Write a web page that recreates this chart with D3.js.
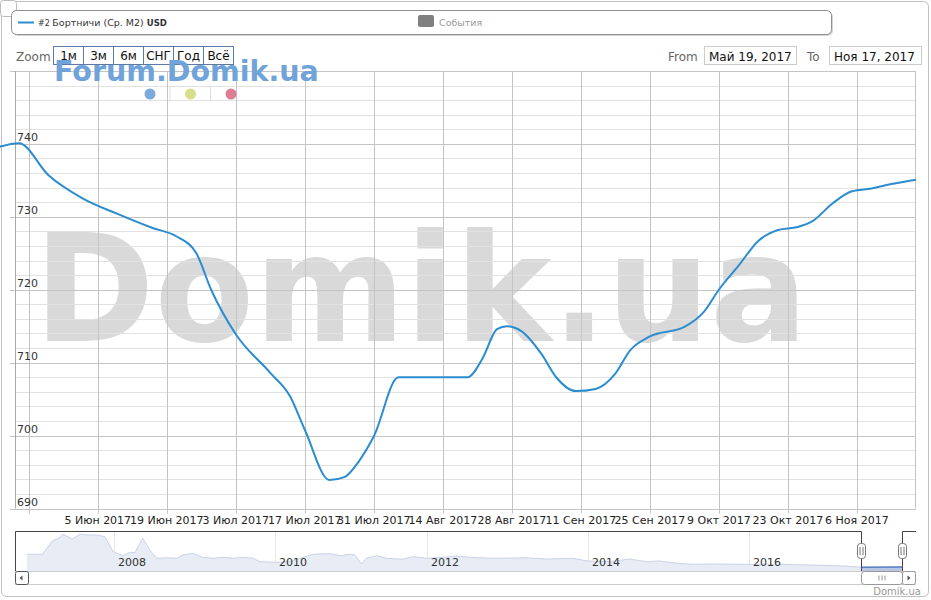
<!DOCTYPE html>
<html>
<head>
<meta charset="utf-8">
<script src="https://cdn.jsdelivr.net/npm/d3@7"></script>
<style>
  body { margin: 0; background: #fff; }
  svg { font-family: "DejaVu Sans", sans-serif; display: block; }
</style>
</head>
<body>
<svg id="chart" width="931" height="600"></svg>
<script>
// Цена, Бортничи (Ср. М2), USD
const priceDates = [
  "2017-05-15", "2017-05-20", "2017-05-26", "2017-06-02", "2017-06-09", "2017-06-16",
  "2017-06-21", "2017-06-25", "2017-06-28", "2017-07-03", "2017-07-10", "2017-07-14",
  "2017-07-17", "2017-07-22", "2017-07-25", "2017-07-28", "2017-07-31", "2017-08-05",
  "2017-08-12", "2017-08-19", "2017-08-22", "2017-08-25", "2017-08-27", "2017-08-30",
  "2017-09-03", "2017-09-06", "2017-09-10", "2017-09-14", "2017-09-18", "2017-09-21",
  "2017-09-25", "2017-10-02", "2017-10-06", "2017-10-09", "2017-10-13", "2017-10-17",
  "2017-10-21", "2017-10-25", "2017-10-28", "2017-11-01", "2017-11-05", "2017-11-09",
  "2017-11-13", "2017-11-18"
];
const priceValues = [
  739.4, 740.1, 735.7, 732.5, 730.4, 728.5,
  727.3, 725.0, 720.0, 713.9, 708.6, 705.4,
  700.8, 693.9, 694.3, 696.5, 699.9, 708.0,
  708.0, 708.0, 710.5, 714.6, 715.0, 714.3,
  711.2, 708.0, 706.1, 706.4, 708.5, 711.7,
  713.6, 714.9, 717.0, 720.0, 723.3, 726.7,
  728.2, 728.6, 729.4, 731.8, 733.5, 733.9,
  734.5, 735.1
];

// Навигатор — вся история
const navDates = [
  "2006-12-01", "2007-02-10", "2007-03-28", "2007-04-25", "2007-05-15", "2007-06-25",
  "2007-07-30", "2007-09-12", "2007-10-15", "2007-11-20", "2007-12-28", "2008-02-10",
  "2008-03-15", "2008-04-05", "2008-05-10", "2008-06-12", "2008-07-12", "2008-08-28",
  "2008-10-12", "2008-11-10", "2008-12-25", "2009-02-05", "2009-03-25", "2009-05-08",
  "2009-06-25", "2009-08-08", "2009-09-25", "2009-10-25", "2010-01-10", "2010-03-15",
  "2010-07-01", "2010-09-20", "2010-11-10", "2010-12-28", "2011-01-20", "2011-02-20",
  "2011-03-15", "2011-05-05", "2011-06-20", "2011-09-05", "2011-10-25", "2012-01-01",
  "2012-03-15", "2012-05-15", "2012-07-12", "2012-10-25", "2013-03-28", "2013-06-28",
  "2013-10-22", "2014-01-01", "2014-04-10", "2014-07-08", "2014-09-25", "2014-11-20",
  "2015-02-10", "2015-04-20", "2015-07-20", "2015-12-05", "2016-05-08", "2016-10-05",
  "2017-03-01", "2017-05-19", "2017-11-18"
];
const navValues = [
  1157, 1157, 1610, 1690, 1823, 1667,
  1823, 1800, 1800, 1743, 1243, 1110,
  1223, 1213, 1690, 1300, 1023, 1040,
  1023, 1133, 1190, 1057, 1023, 1057,
  1023, 1057, 1023, 910, 890, 910,
  1157, 1180, 1110, 1157, 1135, 833,
  1023, 1110, 1023, 990, 1077, 1023,
  1057, 1100, 1057, 1023, 1040, 1000,
  1023, 933, 910, 1000, 910, 933,
  857, 823, 833, 823, 823, 800,
  767, 723, 735
];

const yTicks = [690, 700, 710, 720, 730, 740];
const navYears = ["2008", "2010", "2012", "2014", "2016"];
const zoomButtons = ["1м", "3м", "6м", "СНГ", "Год", "Всё"];
const monthNames = ["Янв", "Фев", "Мар", "Апр", "Май", "Июн", "Июл", "Авг", "Сен", "Окт", "Ноя", "Дек"];

const LINE_COLOR = "#2b8dcf";
const GRID_MAJOR = "#c4c4c4";
const GRID_MINOR = "#e2e2e2";

// Границы области графика
const PLOT_LEFT = 15;
const PLOT_RIGHT = 916;
const PLOT_TOP = 71;
const PLOT_BOTTOM = 508.5;

const NAV_TOP = 531;
const NAV_BOTTOM = 571;

const parseDate = d3.timeParse("%Y-%m-%d");
const priceData = priceDates.map((d, i) => ({ date: parseDate(d), value: priceValues[i] }));
const navData = navDates.map((d, i) => ({ date: parseDate(d), value: navValues[i] }));

const svg = d3.select("#chart");

// Шкалы
const x = d3.scaleTime()
  .domain([new Date(2017, 4, 19), new Date(2017, 10, 18)])
  .range([14, PLOT_RIGHT]);

const y = d3.scaleLinear()
  .domain([690, 750])
  .range([PLOT_BOTTOM, PLOT_TOP]);

// навигатор — ось неравномерная (как в Highstock), поэтому несколько опорных точек
const navX = d3.scaleTime()
  .domain([new Date(2008, 0, 1), new Date(2010, 0, 1), new Date(2012, 0, 1),
           new Date(2014, 0, 1), new Date(2016, 0, 1), new Date(2017, 10, 18)])
  .range([114, 275, 427, 588, 749, 902]);

const navY = d3.scaleLinear()
  .domain([600, 1900])
  .range([NAV_BOTTOM, 532]);

// Внешняя рамка
svg.append("rect")
  .attr("x", 1.5).attr("y", 1.5)
  .attr("width", 927).attr("height", 595)
  .attr("rx", 5)
  .attr("fill", "#fff")
  .attr("stroke", "#c0c0c0");

// Кнопка в левом верхнем углу
svg.append("rect")
  .attr("x", 0.5).attr("y", 0.5)
  .attr("width", 16).attr("height", 16)
  .attr("rx", 3)
  .attr("fill", "#fff")
  .attr("stroke", "#bbb");

// Легенда
svg.append("rect")
  .attr("x", 13).attr("y", 12)
  .attr("width", 820).attr("height", 24)
  .attr("rx", 5)
  .attr("fill", "#aaa")
  .attr("opacity", 0.5);
svg.append("rect")
  .attr("x", 11.5).attr("y", 10.5)
  .attr("width", 820).attr("height", 24)
  .attr("rx", 5)
  .attr("fill", "#fff")
  .attr("stroke", "#909090");

svg.append("line")
  .attr("x1", 18).attr("x2", 34)
  .attr("y1", 22.5).attr("y2", 22.5)
  .attr("stroke", LINE_COLOR)
  .attr("stroke-width", 2);

const legendText = svg.append("text")
  .attr("x", 38).attr("y", 26)
  .attr("font-size", 9.5)
  .attr("fill", "#333");
legendText.append("tspan").attr("font-size", 8).text("#2 ");
legendText.append("tspan").text("Бортничи (Ср. М2) ");
legendText.append("tspan").attr("font-weight", "bold").attr("font-size", 8.5).text("USD");

svg.append("rect")
  .attr("x", 418).attr("y", 15)
  .attr("width", 16).attr("height", 12)
  .attr("rx", 2)
  .attr("fill", "#808080");
svg.append("text")
  .attr("x", 439).attr("y", 26)
  .attr("font-size", 9.5)
  .attr("fill", "#999")
  .text("События");

// Кнопки масштаба
svg.append("text")
  .attr("x", 16).attr("y", 61)
  .attr("font-size", 12)
  .attr("fill", "#666")
  .text("Zoom");

const btnG = svg.append("g");
zoomButtons.forEach((label, i) => {
  const bx = 53.5 + i * 30;
  btnG.append("rect")
    .attr("x", bx).attr("y", 46.5)
    .attr("width", 30).attr("height", 18)
    .attr("fill", "#fff")
    .attr("stroke", "#5b7aa6");
  btnG.append("text")
    .attr("x", bx + 15).attr("y", 60)
    .attr("text-anchor", "middle")
    .attr("font-size", 12)
    .attr("fill", "#111")
    .text(label);
});

// Диапазон дат
svg.append("text")
  .attr("x", 668).attr("y", 61)
  .attr("font-size", 12).attr("fill", "#666")
  .text("From");
svg.append("rect")
  .attr("x", 704.5).attr("y", 46.5)
  .attr("width", 92).attr("height", 18)
  .attr("fill", "#fff").attr("stroke", "#ccc");
svg.append("text")
  .attr("x", 709).attr("y", 61)
  .attr("font-size", 12).attr("fill", "#111")
  .text("Май 19, 2017");

svg.append("text")
  .attr("x", 807).attr("y", 61)
  .attr("font-size", 12).attr("fill", "#666")
  .text("To");
svg.append("rect")
  .attr("x", 829.5).attr("y", 46.5)
  .attr("width", 92).attr("height", 18)
  .attr("fill", "#fff").attr("stroke", "#ccc");
svg.append("text")
  .attr("x", 834).attr("y", 61)
  .attr("font-size", 12).attr("fill", "#111")
  .text("Ноя 17, 2017");

// Фоновый водяной знак
svg.append("text")
  .attr("x", 34).attr("y", 341)
  .attr("font-size", 150)
  .attr("font-weight", "bold")
  .attr("fill", "#d9d9d9")
  .attr("textLength", 774)
  .attr("lengthAdjust", "spacingAndGlyphs")
  .text("Domik.ua");

// Сетка
const grid = svg.append("g");

const minorTicks = d3.range(690, 751, 2).filter((v) => v % 10 !== 0);
grid.selectAll(".minor")
  .data(minorTicks)
  .join("line")
  .attr("class", "minor")
  .attr("x1", PLOT_LEFT).attr("x2", PLOT_RIGHT)
  .attr("y1", (d) => Math.round(y(d)) + 0.5)
  .attr("y2", (d) => Math.round(y(d)) + 0.5)
  .attr("stroke", GRID_MINOR);

const xTicks = d3.timeMonday.range(new Date(2017, 4, 22), new Date(2017, 10, 18), 2);
grid.selectAll(".vgrid")
  .data(xTicks)
  .join("line")
  .attr("class", "vgrid")
  .attr("x1", (d) => Math.round(x(d)) + 0.5)
  .attr("x2", (d) => Math.round(x(d)) + 0.5)
  .attr("y1", PLOT_TOP).attr("y2", PLOT_BOTTOM + 5)
  .attr("stroke", GRID_MAJOR);

grid.selectAll(".major")
  .data(d3.range(690, 751, 10))
  .join("line")
  .attr("class", "major")
  .attr("x1", 10).attr("x2", PLOT_RIGHT)
  .attr("y1", (d) => Math.round(y(d)) + 0.5)
  .attr("y2", (d) => Math.round(y(d)) + 0.5)
  .attr("stroke", GRID_MAJOR);

// рамка области
grid.append("line")
  .attr("x1", PLOT_LEFT + 0.5).attr("x2", PLOT_LEFT + 0.5)
  .attr("y1", PLOT_TOP).attr("y2", PLOT_BOTTOM)
  .attr("stroke", "#aaa");
grid.append("line")
  .attr("x1", PLOT_RIGHT - 0.5).attr("x2", PLOT_RIGHT - 0.5)
  .attr("y1", PLOT_TOP).attr("y2", PLOT_BOTTOM)
  .attr("stroke", GRID_MAJOR);

// подписи оси Y
svg.append("g")
  .selectAll("text")
  .data(yTicks)
  .join("text")
  .attr("x", 17)
  .attr("y", (d) => y(d) - 3)
  .attr("font-size", 11)
  .attr("fill", "#333")
  .text((d) => d);

// подписи оси X
const fmtDate = (d) => `${d.getDate()} ${monthNames[d.getMonth()]} ${d.getFullYear()}`;
svg.append("g")
  .selectAll("text")
  .data(xTicks.filter((d) => x(d) > 60))
  .join("text")
  .attr("x", (d) => x(d))
  .attr("y", 524)
  .attr("text-anchor", "middle")
  .attr("font-size", 11)
  .attr("fill", "#222")
  .text(fmtDate);

// Линия цены
svg.append("clipPath")
  .attr("id", "plot-clip")
  .append("rect")
  .attr("x", 0).attr("y", PLOT_TOP)
  .attr("width", PLOT_RIGHT).attr("height", PLOT_BOTTOM - PLOT_TOP);

const line = d3.line()
  .x((d) => x(d.date))
  .y((d) => y(d.value))
  .curve(d3.curveMonotoneX);

svg.append("path")
  .datum(priceData)
  .attr("clip-path", "url(#plot-clip)")
  .attr("d", line)
  .attr("fill", "none")
  .attr("stroke", LINE_COLOR)
  .attr("stroke-width", 2)
  .attr("stroke-linejoin", "round");

// Надпись Forum.Domik.ua и точки
svg.append("text")
  .attr("x", 54).attr("y", 81)
  .attr("font-size", 28.5)
  .attr("font-weight", "bold")
  .attr("fill", "#6fa3da")
  .text("Forum.Domik.ua");

const dotColors = ["#7eaadb", "#d8de8a", "#dc7f96"];
dotColors.forEach((c, i) => {
  svg.append("circle")
    .attr("cx", 150 + i * 40.5).attr("cy", 94)
    .attr("r", 5.5)
    .attr("fill", c);
  if (i > 0) {
    svg.append("line")
      .attr("x1", 129.5 + i * 40.5).attr("x2", 129.5 + i * 40.5)
      .attr("y1", 87).attr("y2", 102)
      .attr("stroke", "#ddd");
  }
});

// Навигатор
const nav = svg.append("g");

nav.selectAll(".navgrid")
  .data(navYears)
  .join("line")
  .attr("class", "navgrid")
  .attr("x1", (d) => Math.round(navX(new Date(+d, 0, 1))) + 0.5)
  .attr("x2", (d) => Math.round(navX(new Date(+d, 0, 1))) + 0.5)
  .attr("y1", NAV_TOP).attr("y2", NAV_BOTTOM)
  .attr("stroke", "#e8e8e8");

const navArea = d3.area()
  .x((d) => navX(d.date))
  .y0(NAV_BOTTOM)
  .y1((d) => navY(d.value));
const navLine = d3.line()
  .x((d) => navX(d.date))
  .y((d) => navY(d.value));

nav.append("path")
  .datum(navData)
  .attr("d", navArea)
  .attr("fill", "#e7ecf5");
nav.append("path")
  .datum(navData)
  .attr("d", navLine)
  .attr("fill", "none")
  .attr("stroke", "#c9d4e7")
  .attr("stroke-width", 1);

const selLeft = navX(new Date(2017, 4, 19));
const selRight = navX(new Date(2017, 10, 18));

svg.append("clipPath")
  .attr("id", "sel-clip")
  .append("rect")
  .attr("x", selLeft).attr("y", NAV_TOP)
  .attr("width", selRight - selLeft).attr("height", NAV_BOTTOM - NAV_TOP);

nav.append("path")
  .datum(navData)
  .attr("clip-path", "url(#sel-clip)")
  .attr("d", navArea)
  .attr("fill", "#b7c6e2");
nav.append("path")
  .datum(navData)
  .attr("clip-path", "url(#sel-clip)")
  .attr("d", navLine)
  .attr("fill", "none")
  .attr("stroke", "#5b7fc0")
  .attr("stroke-width", 1.5);

nav.selectAll(".navyear")
  .data(navYears)
  .join("text")
  .attr("class", "navyear")
  .attr("x", (d) => navX(new Date(+d, 0, 1)) + 4)
  .attr("y", 566)
  .attr("font-size", 11)
  .attr("fill", "#333")
  .text((d) => d);

// контур навигатора
const sl = Math.round(selLeft) + 0.5;
const sr = Math.round(selRight) + 0.5;
nav.append("path")
  .attr("d", `M${PLOT_LEFT + 0.5},${NAV_BOTTOM} V${NAV_TOP + 0.5} H${sl} V${NAV_BOTTOM}`
    + ` M${sr},${NAV_BOTTOM} V${NAV_TOP + 0.5} H${PLOT_RIGHT}`)
  .attr("fill", "none")
  .attr("stroke", "#444");
nav.append("line")
  .attr("x1", PLOT_LEFT).attr("x2", PLOT_RIGHT)
  .attr("y1", NAV_BOTTOM + 0.5).attr("y2", NAV_BOTTOM + 0.5)
  .attr("stroke", "#ccc");

// ручки
[sl, sr].forEach((hx) => {
  nav.append("rect")
    .attr("x", hx - 4).attr("y", 543.5)
    .attr("width", 8).attr("height", 15)
    .attr("rx", 3)
    .attr("fill", "#fff")
    .attr("stroke", "#777");
  [-1.5, 1.5].forEach((dx) => {
    nav.append("line")
      .attr("x1", hx + dx).attr("x2", hx + dx)
      .attr("y1", 547).attr("y2", 555)
      .attr("stroke", "#777");
  });
});

// Полоса прокрутки
const sb = svg.append("g");
sb.append("line")
  .attr("x1", PLOT_LEFT).attr("x2", PLOT_RIGHT)
  .attr("y1", 584.5).attr("y2", 584.5)
  .attr("stroke", "#ccc");
sb.append("rect")
  .attr("x", 15.5).attr("y", 571.5)
  .attr("width", 13).attr("height", 13)
  .attr("rx", 2)
  .attr("fill", "#fff")
  .attr("stroke", "#555");
sb.append("path")
  .attr("d", "M19.5,578 L22.5,575.5 L22.5,580.5 Z")
  .attr("fill", "#555");

sb.append("rect")
  .attr("x", sl).attr("y", 571.5)
  .attr("width", sr - sl).attr("height", 13)
  .attr("rx", 3)
  .attr("fill", "#fff")
  .attr("stroke", "#999");
[-3, 0, 3].forEach((dx) => {
  sb.append("line")
    .attr("x1", (sl + sr) / 2 + dx).attr("x2", (sl + sr) / 2 + dx)
    .attr("y1", 575.5).attr("y2", 580.5)
    .attr("stroke", "#999");
});

sb.append("rect")
  .attr("x", 902.5).attr("y", 571.5)
  .attr("width", 13).attr("height", 13)
  .attr("rx", 2)
  .attr("fill", "#fff")
  .attr("stroke", "#999");
sb.append("path")
  .attr("d", "M907.5,575.5 L910.5,578 L907.5,580.5 Z")
  .attr("fill", "#555");

// Копирайт
svg.append("text")
  .attr("x", 921).attr("y", 595)
  .attr("text-anchor", "end")
  .attr("font-size", 10)
  .attr("fill", "#999")
  .text("Domik.ua");
</script>
</body>
</html>
